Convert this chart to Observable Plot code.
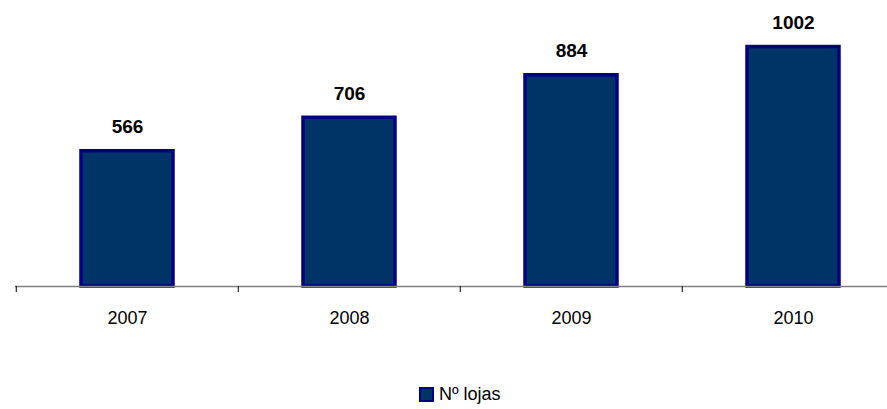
<!DOCTYPE html>
<html>
<head>
<meta charset="utf-8">
<script src="https://cdn.jsdelivr.net/npm/d3@7"></script>
<script src="https://cdn.jsdelivr.net/npm/@observablehq/plot@0.6"></script>
<style>
  html, body { margin: 0; padding: 0; background: #fff; }
  body { width: 887px; height: 409px; overflow: hidden; font-family: "Liberation Sans", Arial, sans-serif; position: relative; }
  #legend { position: absolute; top: 384px; left: 419px; display: flex; align-items: center; font-size: 18px; line-height: 21px; color: #000; }
  #legend .sw { width: 11px; height: 11px; background: #003366; border: 2px solid #000080; margin-right: 5px; }
</style>
</head>
<body>
<div id="chart"></div>
<div id="legend"><span class="sw"></span><span>Nº lojas</span></div>
<script>
const years = ["2007", "2008", "2009", "2010"];
const lojas = [566, 706, 884, 1002];
const seriesName = "Nº lojas";

const data = years.map((y, i) => ({year: y, value: lojas[i]}));

const plot = Plot.plot({
  width: 887,
  height: 340,
  marginLeft: 15,
  marginRight: 0,
  marginTop: 0,
  marginBottom: 54,
  style: {fontFamily: "Liberation Sans, Arial, sans-serif", background: "#fff"},
  x: {domain: years, range: [15, 905], padding: 0, label: null},
  y: {domain: [0, 1000], range: [286, 47], axis: null},
  marks: [
    Plot.barY(data, {x: "year", y: "value", fill: "#003366", stroke: "#000080", strokeWidth: 3.5, insetLeft: 65, insetRight: 65}),
    Plot.ruleY([0], {stroke: "#808080", strokeWidth: 1.5}),
    Plot.axisX({tickSize: 6, dx: -111.25, tickFormat: () => "", stroke: "#000", label: null}),
    Plot.axisX({tickSize: 0, tickPadding: 25, fontSize: 18, fill: "#000", label: null}),
    Plot.text(data, {x: "year", y: "value", text: d => String(d.value), dy: -24, fontSize: 19, fontWeight: "bold", fill: "#000"})
  ]
});
document.getElementById("chart").appendChild(plot);
</script>
</body>
</html>
